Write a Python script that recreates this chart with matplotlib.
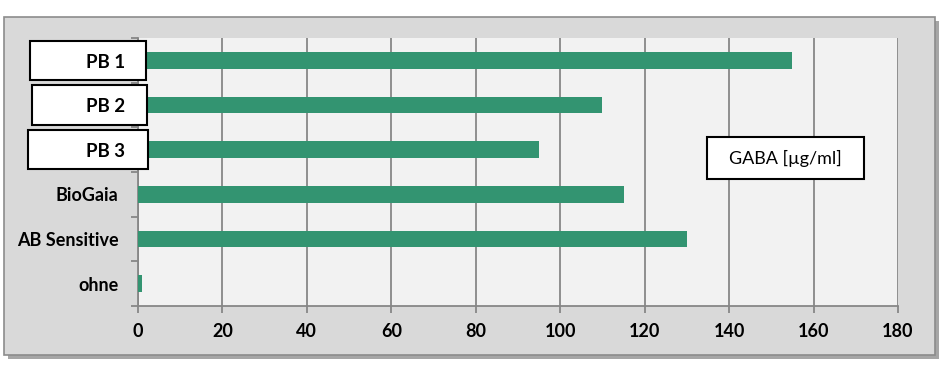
import matplotlib
matplotlib.use('Agg')
import matplotlib.pyplot as plt
from matplotlib.patches import Rectangle
from matplotlib import transforms

# data, top to bottom
categories = ['PB 1', 'PB 2', 'PB 3', 'BioGaia', 'AB Sensitive', 'ohne']
values = [155, 110, 95, 115, 130, 1]
boxed = ['PB 1', 'PB 2', 'PB 3']  # labels that sit in white boxes
xticks = [0, 20, 40, 60, 80, 100, 120, 140, 160, 180]

bar_color = '#339471'
grid_color = '#878787'
fs = 13

plt.rcParams['font.family'] = ['Lato', 'DejaVu Sans']

fig = plt.figure(figsize=(9.42, 3.67), dpi=100)
W, H = 942, 367

# outer frame with a little shadow
fig.patches.append(Rectangle((8 / W, (H - 359) / H), 931 / W, 338 / H,
                             transform=fig.transFigure, facecolor='#a6a6a6',
                             edgecolor='none', zorder=0))
fig.patches.append(Rectangle((4 / W, (H - 355) / H), 931 / W, 338 / H,
                             transform=fig.transFigure, facecolor='#d9d9d9',
                             edgecolor='#8c8c8c', linewidth=1.2, zorder=1))

ax = fig.add_axes([138 / W, (H - 306) / H, 760 / W, 268 / H])
ax.set_facecolor('#f2f2f2')
ax.set_zorder(2)

pos = list(range(len(categories)))
ax.barh(pos, values, height=0.38, color=bar_color, zorder=3)
ax.set_ylim(len(categories) - 0.5, -0.5)
ax.set_xlim(0, 180)

ax.set_xticks(xticks)
ax.set_xticklabels([str(v) for v in xticks], fontsize=fs, fontweight='bold')
ax.set_yticks(pos)
ax.set_yticklabels(['' if c in boxed else c for c in categories],
                   fontsize=fs, fontweight='bold')
ax.set_yticks([p - 0.5 for p in pos] + [len(pos) - 0.5], minor=True)

ax.xaxis.grid(True, color=grid_color, linewidth=1.3, zorder=1)
ax.set_axisbelow(True)
for s in ['top', 'right']:
    ax.spines[s].set_visible(False)
for s in ['left', 'bottom']:
    ax.spines[s].set_color(grid_color)
    ax.spines[s].set_linewidth(1.3)

ax.tick_params(axis='x', direction='out', length=5, width=1.3, color=grid_color, pad=7)
ax.tick_params(axis='y', which='major', length=0, pad=14)
ax.tick_params(axis='y', which='minor', direction='out', length=5, width=1.3, color=grid_color)

# white boxes with the PB labels, laid over the axis
trans = transforms.blended_transform_factory(fig.transFigure, ax.transData)
box_x = [(30, 146), (32, 147), (28, 148)]
for (x0, x1), name in zip(box_x, boxed):
    y = categories.index(name)
    r = Rectangle((x0 / W, y - 0.44), (x1 - x0) / W, 0.88, transform=trans,
                  facecolor='white', edgecolor='black', linewidth=1.5,
                  zorder=10, clip_on=False)
    ax.add_patch(r)
    ax.text(125 / W, y + 0.04, name, transform=trans, ha='right', va='center',
            fontsize=fs + 0.5, fontweight='bold', zorder=11, clip_on=False)

# legend-like box
ax.add_patch(Rectangle((707 / W, (H - 179) / H), 157 / W, 42 / H,
                       transform=fig.transFigure, facecolor='white',
                       edgecolor='black', linewidth=1.5, zorder=10, clip_on=False))
ax.text(785.5 / W, (H - 158) / H, 'GABA [µg/ml]', transform=fig.transFigure,
        ha='center', va='center', fontsize=fs, zorder=11)

fig.savefig('out.png', dpi=100)
